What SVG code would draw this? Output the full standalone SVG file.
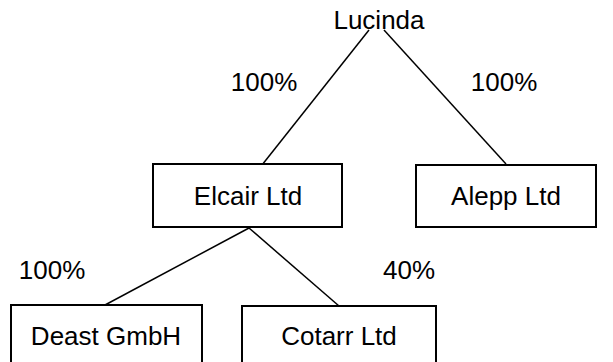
<svg xmlns="http://www.w3.org/2000/svg" width="613" height="362" viewBox="0 0 613 362">
<style>
text{font-family:"Liberation Sans",Arial,sans-serif;font-size:26px;fill:#000;text-anchor:middle}
.box{fill:#fff;stroke:#000;stroke-width:2}
.ln{stroke:#000;stroke-width:1.5;fill:none}
</style>
<rect width="613" height="362" fill="#fff"/>
<g id="connectors">
<line class="ln" x1="369" y1="30" x2="262" y2="165"/>
<line class="ln" x1="384" y1="30" x2="506" y2="164"/>
<line class="ln" x1="249" y1="228" x2="105" y2="305"/>
<line class="ln" x1="249" y1="228" x2="339" y2="306"/>
</g>
<g id="labels">
<text x="264" y="91">100%</text>
<text x="504" y="91">100%</text>
<text x="52" y="279">100%</text>
<text x="409" y="279">40%</text>
</g>
<g id="lucinda"><text x="379" y="29">Lucinda</text></g>
<g id="elcair"><rect class="box" x="153" y="164" width="189" height="63"/><text x="248" y="205">Elcair Ltd</text></g>
<g id="alepp"><rect class="box" x="416" y="165" width="180" height="62"/><text x="506" y="205">Alepp Ltd</text></g>
<g id="deast"><rect class="box" x="11" y="305" width="191" height="70"/><text x="106" y="345">Deast GmbH</text></g>
<g id="cotarr"><rect class="box" x="242" y="306" width="194" height="70"/><text x="339" y="345">Cotarr Ltd</text></g>
</svg>
